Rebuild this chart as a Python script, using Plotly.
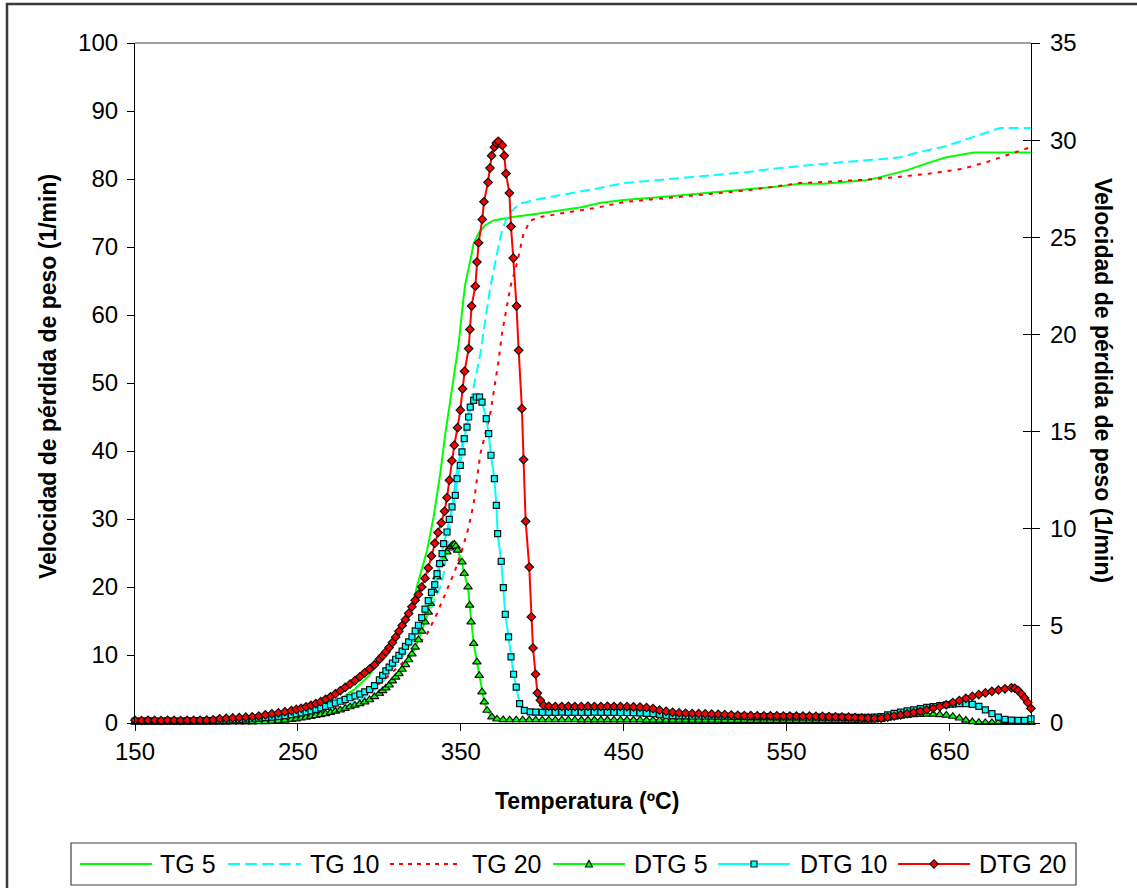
import plotly.graph_objects as go

# ---------------- data ----------------
TG5_T = [150,170,190,210,230,245,255,265,275,285,293,300,306,313,319,323,329.3,333.3,337.4,340.5,
         343.6,346.6,348.7,351.7,352.8,355.8,357.9,360.9,365,370,382,397,411,423,436,450,475,500,525,545,
         558,573,587,599,611,624,636,648,665,700]
TG5 = [0,0.1,0.2,0.35,0.7,1.1,1.6,2.3,3.4,5.0,6.8,9.0,11.3,13.6,16.1,20.0,25.4,30.3,36.7,42.6,
       47.5,52.1,55.8,62.6,64.6,68.0,70.5,72.0,73.2,73.9,74.4,74.9,75.4,75.8,76.5,76.9,77.4,77.9,78.4,78.9,
       79.3,79.3,79.6,79.8,80.5,81.3,82.3,83.2,83.9,83.9]

TG10_T = [150,180,210,230,250,265,280,290,300,308.8,315,321,327,332,337.4,339.5,341.5,343.6,345.5,347.7,
          351.7,355.8,359.9,362,365,368.1,372.2,375.3,379.3,386.5,398.8,411,423.3,433.6,450,475,500,525,545,558,
          585,607,620,632,646,661,673,681,700]
TG10 = [0,0.1,0.3,0.5,1.0,1.6,2.6,3.6,5.4,8.2,10.0,12.2,14.6,17.0,20.0,22.0,25.5,29.5,33.5,37.2,
        42.1,47.0,51.9,54.3,59.2,64.1,69.0,72.5,74.9,76.4,77.1,77.6,78.1,78.6,79.4,79.9,80.4,81.0,81.6,81.9,
        82.5,82.9,83.2,84.0,84.7,85.9,86.9,87.5,87.5]

TG20_T = [150,190,220,245,265,280,295,305,315,323,329.3,335.4,341.5,346.6,350.7,354.8,357.9,359.9,362,368.1,
          370.1,372.2,373.2,375.3,377.3,380.4,384.5,388.5,392.7,398.8,413,427,434,450,475,500,525,558,585,599,
          618,638,658,673,685,697,700]
TG20 = [0,0.1,0.4,1.0,1.9,3.0,4.8,6.8,9.0,11.2,13.1,16.1,19.5,22.5,25.4,28.8,32.3,35.7,39.6,45.5,
        48.4,51.9,53.3,57.3,60.2,64.1,67.6,72.0,73.9,74.4,75.0,75.5,75.8,76.6,77.2,77.8,78.3,79.4,79.8,79.9,
        80.3,80.8,81.5,82.5,83.5,84.5,84.7]

DTG5_T = [150,154,158,162,166,170,174,178,182,186,190,194,198,
          202,206,210,214,218,222,226,230,234,238,242,246,
          249,252,255,258,261,264,267,270,273,276,279,282,285,288,291,294,297,300,
          302,304,306,308,310,312,314,316,318,320,322,324,326,328,330,
          331.3,333.3,335.4,337.4,339.4,341.5,343,344,345,346,347,348,350.7,352.1,354.4,355.4,356.3,357.9,359.9,361.3,363,364.4,366.1,369.1,372.2,
          376,380,384,388,392,396,400,404,408,412,416,420,424,428,432,436,
          440,444,448,452,456,460,464,468,472,476,480,484,488,492,496,500,
          504,508,512,516,520,524,528,532,536,540,544,548,552,556,560,564,
          568,572,576,580,584,588,592,596,600,604,608,612,616,620,624,628,
          632,636,640,644,648,652,656,660,664,668,672,676,680,684,688,692,696,700]
DTG5 = [0.04,0.04,0.04,0.04,0.04,0.04,0.04,0.04,0.04,0.04,0.04,0.04,0.04,
        0.04,0.04,0.05,0.05,0.05,0.05,0.06,0.06,0.08,0.11,0.14,0.18,
        0.21,0.25,0.29,0.33,0.38,0.43,0.48,0.54,0.60,0.67,0.75,0.83,0.91,0.99,1.08,1.20,1.35,1.52,
        1.66,1.80,1.95,2.16,2.36,2.54,2.76,3.00,3.25,3.55,3.90,4.28,4.72,5.20,5.70,
        6.15,6.83,7.51,8.20,8.46,8.80,9.00,9.08,9.16,9.20,9.10,8.89,8.29,7.69,7.00,6.06,5.20,4.09,3.14,2.45,1.60,1.08,0.65,0.31,0.20,
        0.17,0.16,0.16,0.16,0.16,0.16,0.16,0.16,0.16,0.16,0.16,0.16,0.15,0.15,0.15,0.15,
        0.15,0.15,0.15,0.15,0.15,0.15,0.14,0.14,0.14,0.14,0.14,0.14,0.14,0.14,0.14,0.14,
        0.14,0.14,0.13,0.13,0.13,0.13,0.13,0.13,0.13,0.13,0.13,0.13,0.13,0.13,0.13,0.13,
        0.13,0.13,0.13,0.13,0.13,0.13,0.13,0.14,0.14,0.15,0.18,0.24,0.30,0.35,0.39,0.42,
        0.44,0.45,0.45,0.43,0.40,0.34,0.25,0.14,0.06,0.03,0.02,0.02,0.02,0.02,0.02,0.02,0.02,0.02]

DTG10_T = [150,154,158,162,166,170,174,178,182,186,190,194,198,
           202,206,210,214,218,222,226,230,234,238,242,246,
           249,252,255,258,261,264,267,270,273,276,279,282,285,288,291,294,297,300,
           302,304,306,308,310,312,314,316,318,320,322,324,326,328,330,332,334,
           335.4,337,338.5,339.4,341.5,342.9,344.6,346.6,347.7,349.7,350.7,352.1,353.8,354.8,355.8,357.9,359.5,361.5,
           363,365.6,367.1,368.5,370.6,371.8,372.6,374.8,376.1,377.3,379.3,380.8,382.4,384,386.1,389,392.6,
           396,400,404,408,412,416,420,424,428,432,436,440,444,448,452,456,
           460,464,468,472,476,480,484,488,492,496,500,504,508,512,516,520,
           524,528,532,536,540,544,548,552,556,560,564,568,572,576,580,584,
           588,592,596,600,604,608,612,616,620,624,628,632,636,640,644,648,
           652,656,660,664,668,672,676,680,684,688,692,696,700]
DTG10 = [0.10,0.10,0.11,0.10,0.10,0.11,0.10,0.10,0.11,0.11,0.12,0.12,0.13,
         0.14,0.15,0.16,0.18,0.20,0.22,0.25,0.28,0.30,0.34,0.38,0.43,
         0.47,0.52,0.57,0.63,0.70,0.78,0.86,0.94,1.03,1.12,1.21,1.30,1.39,1.49,1.60,1.72,1.92,2.22,
         2.45,2.68,2.88,3.08,3.28,3.48,3.70,3.94,4.18,4.44,4.74,5.03,5.42,5.86,6.30,6.72,7.12,
         7.69,8.20,8.72,9.23,9.83,10.48,11.12,11.72,12.58,13.26,13.95,14.64,15.23,15.75,16.26,16.61,16.78,16.78,
         16.52,15.67,14.89,13.78,12.58,11.20,9.75,8.32,6.97,5.59,4.43,3.40,2.51,1.85,1.00,0.65,0.57,
         0.56,0.55,0.55,0.55,0.56,0.55,0.55,0.55,0.55,0.56,0.55,0.55,0.55,0.54,0.54,0.53,
         0.52,0.50,0.48,0.44,0.40,0.38,0.37,0.37,0.36,0.36,0.36,0.35,0.35,0.35,0.34,0.34,
         0.34,0.33,0.33,0.33,0.33,0.32,0.32,0.32,0.32,0.31,0.31,0.31,0.30,0.30,0.30,0.30,
         0.29,0.29,0.29,0.29,0.30,0.33,0.42,0.50,0.56,0.62,0.68,0.74,0.80,0.85,0.90,0.94,
         0.97,1.00,1.00,0.96,0.86,0.68,0.48,0.30,0.19,0.15,0.14,0.14,0.22]

DTG20_T = [150,154,158,162,166,170,174,178,182,186,190,194,198,
           202,206,210,214,218,222,226,230,234,238,242,246,
           249,252,255,258,261,264,267,270,273,276,279,282,285,288,291,294,297,300,
           302,304,306,308,310,312,314,316,318,320,322,324,326,328,330,332,334,336,338,340,
           341.5,343,344.5,346,348,349.7,351.1,352.3,
           354.8,355.6,356.6,358.9,359.9,360.9,363.2,364.2,366.7,367.9,368.9,370.6,371.8,373.0,
           375.5,376.7,377.7,379.8,380.8,382.2,384.2,385.5,387.5,388.5,389.8,392.0,393.3,394.3,395.9,397.0,398.8,400.8,
           404,408,412,416,420,424,428,432,436,440,444,448,452,456,460,464,
           468,472,476,480,484,488,492,496,500,504,508,512,516,520,524,528,
           532,536,540,544,548,552,556,560,564,568,572,576,580,584,588,592,
           596,600,604,608,612,616,620,624,628,632,636,640,644,648,652,656,
           660,664,668,672,676,680,684,688,690,692,694,696,698,700]
DTG20 = [0.14,0.13,0.14,0.14,0.13,0.14,0.14,0.13,0.14,0.14,0.14,0.15,0.16,
         0.22,0.24,0.26,0.28,0.30,0.32,0.36,0.42,0.47,0.52,0.58,0.64,
         0.70,0.76,0.83,0.91,1.00,1.10,1.22,1.35,1.50,1.66,1.83,2.00,2.18,2.38,2.58,2.78,3.00,3.28,
         3.46,3.66,3.88,4.14,4.42,4.72,5.02,5.32,5.64,5.98,6.32,6.62,7.00,7.45,7.98,8.60,9.25,9.80,10.30,10.90,
         11.6,12.5,13.5,14.3,15.2,16.1,17.2,18.1,
         19.27,20.26,21.46,22.48,23.73,24.72,25.92,26.83,27.83,28.56,29.20,29.64,29.85,29.94,
         29.73,29.20,28.28,27.28,25.55,23.93,21.46,19.18,16.18,13.56,10.38,8.03,5.46,3.86,2.51,1.54,1.17,0.91,
         0.86,0.85,0.85,0.86,0.85,0.85,0.86,0.85,0.85,0.86,0.85,0.85,0.84,0.83,0.82,0.80,
         0.74,0.66,0.60,0.55,0.52,0.50,0.49,0.48,0.47,0.46,0.45,0.43,0.41,0.39,0.38,0.38,
         0.37,0.37,0.37,0.37,0.36,0.36,0.36,0.35,0.35,0.34,0.34,0.33,0.32,0.31,0.30,0.28,
         0.26,0.25,0.24,0.25,0.30,0.36,0.42,0.48,0.54,0.60,0.68,0.76,0.84,0.94,1.05,1.16,
         1.27,1.37,1.46,1.55,1.63,1.70,1.76,1.81,1.79,1.68,1.50,1.30,1.05,0.75]

X_TICKS = [150, 250, 350, 450, 550, 650]
SERIES_NAMES = ["TG 5", "TG 10", "TG 20", "DTG 5", "DTG 10", "DTG 20"]
X_TITLE = "Temperatura (ºC)"
Y_TITLE = "Velocidad de pérdida de peso (1/min)"

for a, b in [(TG5_T, TG5), (TG10_T, TG10), (TG20_T, TG20), (DTG5_T, DTG5), (DTG10_T, DTG10), (DTG20_T, DTG20)]:
    assert len(a) == len(b), (len(a), len(b))

# ---------------- styling ----------------
FONT = "Arial, 'Liberation Sans', sans-serif"
GREEN, CYAN, RED = "#00FF00", "#00FFFF", "#FF0000"
W, H = 1137, 888
L, R, T, B = 135, 106, 43, 165
PW, PH = W - L - R, H - T - B


def px(xp):
    return (xp - L) / PW


def py(yp):
    return (H - B - yp) / PH


fig = go.Figure()
fig.add_trace(go.Scatter(x=TG5_T, y=TG5, mode="lines", name=SERIES_NAMES[0],
                         line=dict(color=GREEN, width=2)))
fig.add_trace(go.Scatter(x=TG10_T, y=TG10, mode="lines", name=SERIES_NAMES[1],
                         line=dict(color=CYAN, width=2, dash="10px,5px")))
fig.add_trace(go.Scatter(x=TG20_T, y=TG20, mode="lines", name=SERIES_NAMES[2],
                         line=dict(color=RED, width=2, dash="4px,6px")))
mk_line = dict(color="#111111", width=1.2)
fig.add_trace(go.Scatter(x=DTG5_T, y=DTG5, mode="lines+markers", name=SERIES_NAMES[3], yaxis="y2",
                         cliponaxis=False, line=dict(color=GREEN, width=2),
                         marker=dict(symbol="triangle-up", size=7.5, color=GREEN, line=mk_line)))
fig.add_trace(go.Scatter(x=DTG10_T, y=DTG10, mode="lines+markers", name=SERIES_NAMES[4], yaxis="y2",
                         cliponaxis=False, line=dict(color=CYAN, width=2),
                         marker=dict(symbol="square", size=6, color=CYAN, line=mk_line)))
fig.add_trace(go.Scatter(x=DTG20_T, y=DTG20, mode="lines+markers", name=SERIES_NAMES[5], yaxis="y2",
                         cliponaxis=False, line=dict(color=RED, width=2),
                         marker=dict(symbol="diamond", size=6.5, color=RED, line=mk_line)))

axis_font = dict(family=FONT, size=24, color="black")
fig.update_layout(
    width=W, height=H, margin=dict(l=L, r=R, t=T, b=B, pad=0),
    paper_bgcolor="white", plot_bgcolor="white", showlegend=False,
    font=dict(family=FONT, color="black"),
    xaxis=dict(range=[150, 700], tickvals=X_TICKS, ticks="outside", ticklen=7, tickwidth=1,
               tickcolor="black", showline=True, linecolor="black", linewidth=1.2,
               showgrid=False, zeroline=False, tickfont=axis_font),
    yaxis=dict(range=[0, 100], dtick=10, ticks="outside", ticklen=7, tickwidth=1,
               tickcolor="black", showline=True, linecolor="black", linewidth=1.2,
               showgrid=False, zeroline=False, tickfont=axis_font, ticklabelstandoff=4),
    yaxis2=dict(range=[0, 35], dtick=5, overlaying="y", side="right", anchor="x",
                ticks="outside", ticklen=8, tickwidth=1, tickcolor="black",
                showline=True, linecolor="black", linewidth=1.2,
                showgrid=False, zeroline=False, tickfont=axis_font, ticklabelstandoff=5),
    yaxis3=dict(range=[0, 35], dtick=5, overlaying="y", side="right", anchor="x",
                ticks="inside", ticklen=8, tickwidth=1, tickcolor="black",
                showticklabels=False, showline=False, showgrid=False, zeroline=False),
)
# empty trace so the inner tick marks of the right axis are drawn
fig.add_trace(go.Scatter(x=[None], y=[None], yaxis="y3", showlegend=False, hoverinfo="skip"))

shapes = []
# outer chart border
shapes.append(dict(type="rect", xref="paper", yref="paper", x0=px(7), x1=px(1150), y0=py(900), y1=py(4),
                   line=dict(color="#3a3a3a", width=2.5), fillcolor="rgba(0,0,0,0)", layer="below"))
# plot area top border
shapes.append(dict(type="line", xref="paper", yref="paper", x0=0, x1=1, y0=1, y1=1,
                   line=dict(color="#808080", width=1.5)))
# legend box
LEG_Y = 864
shapes.append(dict(type="rect", xref="paper", yref="paper", x0=px(71), x1=px(1076), y0=py(885), y1=py(843),
                   line=dict(color="#404040", width=1.2), fillcolor="white"))
leg_items = [
    (80, 152, 158, GREEN, "solid", None),
    (228, 301, 308, CYAN, "12px,5px", None),
    (390, 460, 470, RED, "4px,5px", None),
    (553, 625, 632, GREEN, "solid", "tri"),
    (718, 790, 798, CYAN, "solid", "sq"),
    (898, 970, 977, RED, "solid", "dia"),
]
annotations = []
for (x0, x1, xt, col, dash, mk), name in zip(leg_items, SERIES_NAMES):
    shapes.append(dict(type="line", xref="paper", yref="paper", x0=px(x0), x1=px(x1), y0=py(LEG_Y), y1=py(LEG_Y),
                       line=dict(color=col, width=2.2, dash=dash)))
    if mk:
        path = {"tri": "M-3.5,-3 L3.5,-3 L0,3.8 Z",
                "sq": "M-3,-3 L3,-3 L3,3 L-3,3 Z",
                "dia": "M0,-4.2 L4.2,0 L0,4.2 L-4.2,0 Z"}[mk]
        shapes.append(dict(type="path", xref="paper", yref="paper", xsizemode="pixel", ysizemode="pixel",
                           xanchor=px((x0 + x1) / 2), yanchor=py(LEG_Y), path=path,
                           fillcolor=col, line=dict(color="#111111", width=1.2)))
    annotations.append(dict(text=name, x=px(xt), y=py(LEG_Y), xref="paper", yref="paper",
                            xanchor="left", yanchor="middle", showarrow=False,
                            font=dict(family=FONT, size=25, color="black")))

title_font = dict(family=FONT, size=23, color="black")
annotations.append(dict(text="<b>%s</b>" % X_TITLE, x=px(587), y=py(801), xref="paper", yref="paper",
                        xanchor="center", yanchor="middle", showarrow=False, font=title_font))
annotations.append(dict(text="<b>%s</b>" % Y_TITLE, x=px(48), y=py(377), xref="paper", yref="paper",
                        xanchor="center", yanchor="middle", showarrow=False, textangle=-90, font=title_font))
annotations.append(dict(text="<b>%s</b>" % Y_TITLE, x=px(1103), y=py(380), xref="paper", yref="paper",
                        xanchor="center", yanchor="middle", showarrow=False, textangle=90, font=title_font))

fig.update_layout(shapes=shapes, annotations=annotations)
fig.write_html("out.html")
